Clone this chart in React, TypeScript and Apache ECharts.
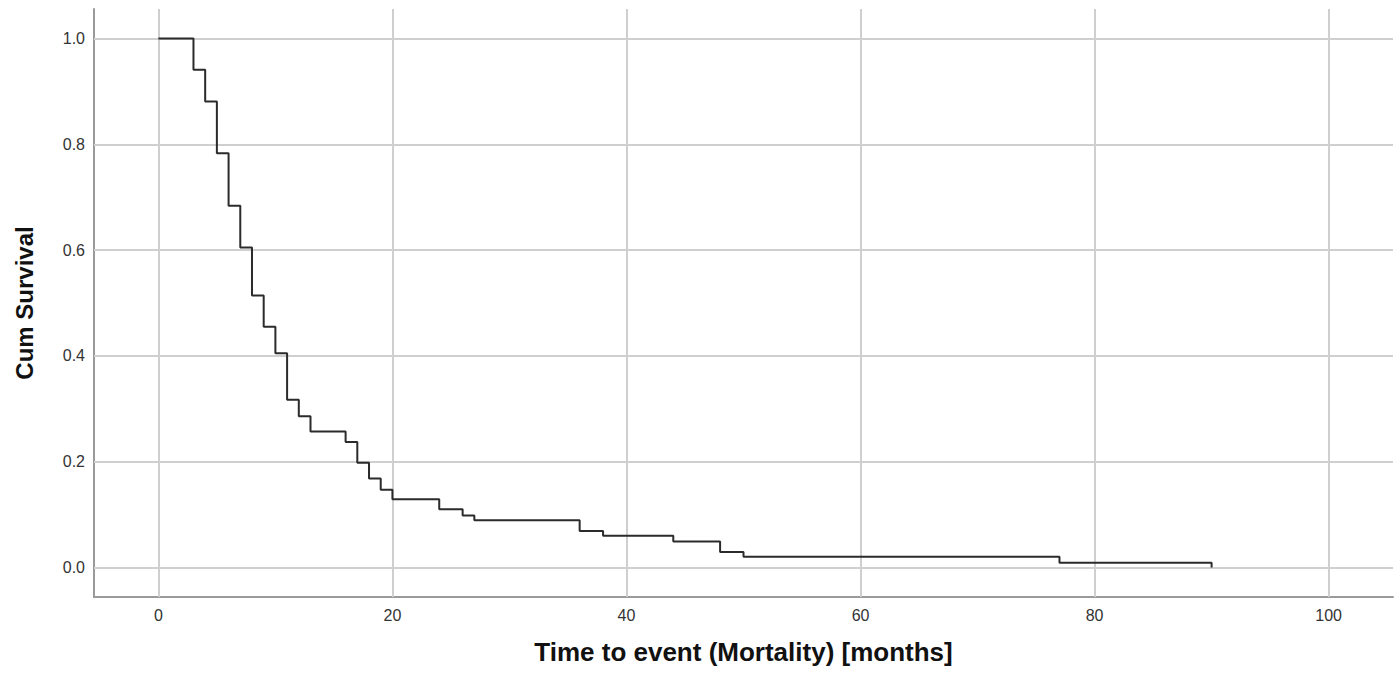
import React, { useEffect, useRef } from "react";
import * as echarts from "echarts";

// Kaplan-Meier estimate (time in months, cumulative survival)
const times = [0, 3, 4, 5, 6, 7, 8, 9, 10, 11, 12, 13, 16, 17, 18, 19, 20, 24, 26, 27, 36, 38, 44, 48, 50, 77, 90, 90];
const survival = [1.0, 0.941, 0.881, 0.783, 0.684, 0.605, 0.514, 0.455, 0.405, 0.317, 0.286, 0.257, 0.237, 0.198, 0.168, 0.147, 0.129, 0.11, 0.098, 0.089, 0.069, 0.06, 0.049, 0.029, 0.02, 0.009, 0.009, 0.0];

const xTicks = [0, 20, 40, 60, 80, 100];
const yTicks = [0.0, 0.2, 0.4, 0.6, 0.8, 1.0];

const xTitle = "Time to event (Mortality) [months]";
const yTitle = "Cum Survival";

export default function App() {
  const ref = useRef<HTMLDivElement>(null);
  useEffect(() => {
    if (!ref.current) return;
    const chart = echarts.init(ref.current, undefined, { renderer: "svg" });
    const gridColor = "#cfcfcf";
    const option: any = {
      animation: false,
      backgroundColor: "#ffffff",
      grid: { left: 94, right: 7, top: 9, bottom: 78, containLabel: false },
      xAxis: {
        type: "value",
        min: -5.5,
        max: 105.5,
        name: xTitle,
        nameLocation: "middle",
        nameGap: 42,
        nameTextStyle: {
          fontFamily: "Liberation Sans, Arial, sans-serif",
          fontSize: 26,
          fontWeight: "bold",
          color: "#111",
          verticalAlign: "top",
        },
        axisLine: { show: true, onZero: false, lineStyle: { color: "#9a9a9a", width: 2 } },
        axisTick: { show: false },
        splitLine: { show: false },
        axisLabel: {
          customValues: xTicks,
          fontFamily: "Liberation Sans, Arial, sans-serif",
          fontSize: 16,
          color: "#333",
          margin: 10,
        },
      },
      yAxis: {
        type: "value",
        min: -0.056,
        max: 1.056,
        name: yTitle,
        nameLocation: "middle",
        nameGap: 58,
        nameTextStyle: {
          fontFamily: "Liberation Sans, Arial, sans-serif",
          fontSize: 24,
          fontWeight: "bold",
          color: "#111",
        },
        axisLine: { show: true, onZero: false, lineStyle: { color: "#9a9a9a", width: 2 } },
        axisTick: { show: false },
        splitLine: { show: false },
        axisLabel: {
          customValues: yTicks,
          formatter: (v: number) => v.toFixed(1),
          fontFamily: "Liberation Sans, Arial, sans-serif",
          fontSize: 16,
          color: "#333",
          margin: 9,
        },
      },
      series: [
        {
          type: "line",
          silent: true,
          data: [],
          markLine: {
            silent: true,
            symbol: ["none", "none"],
            label: { show: false },
            lineStyle: { color: gridColor, width: 2, type: "solid" },
            data: [
              ...xTicks.map((v) => ({ xAxis: v })),
              ...yTicks.map((v) => ({ yAxis: v })),
            ],
          },
        },
        {
          type: "line",
          step: "end",
          showSymbol: false,
          symbol: "none",
          data: times.map((t, i) => [t, survival[i]]),
          lineStyle: { color: "#2b2b2b", width: 2 },
          z: 5,
        },
      ],
    };
    chart.setOption(option);
    return () => chart.dispose();
  }, []);
  return (
    <div
      ref={ref}
      style={{ position: "fixed", left: 0, top: 0, width: 1400, height: 675, background: "#fff" }}
    />
  );
}
